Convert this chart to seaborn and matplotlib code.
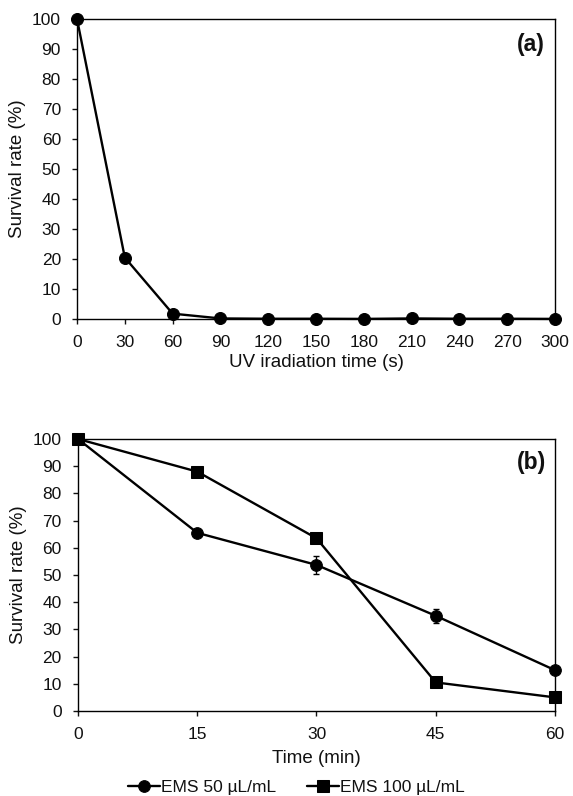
import numpy as np
import pandas as pd
import seaborn as sns
import matplotlib
matplotlib.use("Agg")
import matplotlib.pyplot as plt

# ---------------------------------------------------
# Data
# ---------------------------------------------------

uv_time = [0, 30, 60, 90, 120, 150, 180, 210, 240, 270, 300]
uv_survival = [100, 20.5, 1.8, 0.2, 0.1, 0.1, 0.05, 0.2, 0.1, 0.1, 0.05]
uv_err = [0.5, 1.2, 0.5, 0.1, 0.05, 0.05, 0.05, 0.1, 0.05, 0.05, 0.05]

ems_time = [0, 15, 30, 45, 60]
ems50_survival = [100, 65.5, 53.7, 35.0, 15.0]
ems50_err = [0.5, 1.0, 3.2, 2.5, 1.0]
ems100_survival = [100, 88.0, 63.5, 10.5, 5.0]
ems100_err = [0.5, 1.8, 1.0, 0.8, 0.5]

series_labels = ["EMS 50 µL/mL", "EMS 100 µL/mL"]

# ---------------------------------------------------
# Style
# ---------------------------------------------------

sns.set_style("ticks")
plt.rcParams["font.family"] = ["Liberation Sans", "DejaVu Sans"]
plt.rcParams["font.size"] = 12.5
plt.rcParams["axes.linewidth"] = 1.0
plt.rcParams["xtick.major.width"] = 1.0
plt.rcParams["ytick.major.width"] = 1.0
plt.rcParams["xtick.major.size"] = 3.6
plt.rcParams["ytick.major.size"] = 3.6
plt.rcParams["xtick.color"] = "#111111"
plt.rcParams["ytick.color"] = "#111111"
plt.rcParams["text.color"] = "#111111"
plt.rcParams["axes.labelcolor"] = "#111111"

fig = plt.figure(figsize=(5.73, 7.96), dpi=100)
ax_a = fig.add_axes([0.1344, 0.5992, 0.8342, 0.3769])
ax_b = fig.add_axes([0.1361, 0.1068, 0.8325, 0.3417])

# ---------------------------------------------------
# Panel (a): UV
# ---------------------------------------------------

df_uv = pd.DataFrame({"time": uv_time, "survival": uv_survival})
ax_a.errorbar(uv_time, uv_survival, yerr=uv_err, fmt="none", ecolor="black",
              elinewidth=1, capsize=2, zorder=2)
sns.lineplot(data=df_uv, x="time", y="survival", ax=ax_a, color="black",
             marker="o", markersize=8.6, linewidth=1.7, markeredgecolor="black",
             errorbar=None, zorder=3)

ax_a.set_xlim(0, 300)
ax_a.set_ylim(0, 100)
ax_a.set_xticks(uv_time)
ax_a.set_yticks(range(0, 101, 10))
ax_a.set_xlabel("UV iradiation time (s)", fontsize=13.5, labelpad=3)
ax_a.set_ylabel("Survival rate (%)", fontsize=13.5, labelpad=4)
ax_a.text(545 / 573, 1 - 33 / 796, "(a)", transform=fig.transFigure, ha="right",
          va="top", fontsize=16.5, fontweight="bold")

# ---------------------------------------------------
# Panel (b): EMS
# ---------------------------------------------------

df_ems = pd.DataFrame({
    "time": ems_time * 2,
    "survival": ems50_survival + ems100_survival,
    "series": [series_labels[0]] * len(ems_time) + [series_labels[1]] * len(ems_time),
})

ax_b.errorbar(ems_time, ems50_survival, yerr=ems50_err, fmt="none", ecolor="black",
              elinewidth=1, capsize=2, zorder=2)
ax_b.errorbar(ems_time, ems100_survival, yerr=ems100_err, fmt="none", ecolor="black",
              elinewidth=1, capsize=2, zorder=2)
sns.lineplot(data=df_ems, x="time", y="survival", hue="series", style="series",
             markers={series_labels[0]: "o", series_labels[1]: "s"},
             dashes=False, palette=["black", "black"], markersize=8.4,
             linewidth=1.7, markeredgecolor="black", errorbar=None, ax=ax_b, zorder=3)

ax_b.set_xlim(0, 60)
ax_b.set_ylim(0, 100)
ax_b.set_xticks(ems_time)
ax_b.set_yticks(range(0, 101, 10))
ax_b.set_xlabel("Time (min)", fontsize=13.5, labelpad=6)
ax_b.set_ylabel("Survival rate (%)", fontsize=13.5, labelpad=4)
ax_b.text(546 / 573, 1 - 451 / 796, "(b)", transform=fig.transFigure, ha="right",
          va="top", fontsize=16.5, fontweight="bold")

handles, labels = ax_b.get_legend_handles_labels()
ax_b.get_legend().remove()
fig.legend(handles, labels, loc="center", bbox_to_anchor=(0.517, 0.011), ncol=2,
           frameon=False, handlelength=1.85, handletextpad=0.05, columnspacing=1.8,
           fontsize=12.5)

for ax in (ax_a, ax_b):
    for side in ("top", "right", "left", "bottom"):
        ax.spines[side].set_visible(True)
        ax.spines[side].set_color("black")
    ax.tick_params(axis="x", direction="out", pad=8, labelsize=12.5)
    ax.tick_params(axis="y", direction="out", pad=8, labelsize=12.5)
    for line in ax.lines:
        line.set_clip_on(False)
    for coll in ax.collections:
        coll.set_clip_on(False)

fig.savefig("out.png", dpi=100)
